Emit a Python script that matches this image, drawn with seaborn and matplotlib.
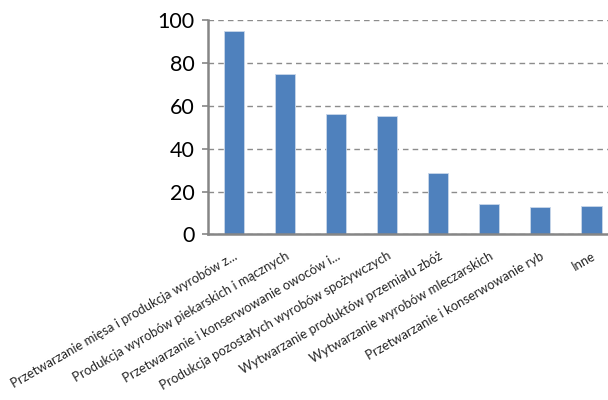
import numpy as np
import pandas as pd
import seaborn as sns
import matplotlib.pyplot as plt

categories = [
  'Przetwarzanie mięsa i produkcja wyrobów z...',
  'Produkcja wyrobów piekarskich i mącznych',
  'Przetwarzanie i konserwowanie owoców i...',
  'Produkcja pozostałych wyrobów spożywczych',
  'Wytwarzanie produktów przemiału zbóż',
  'Wytwarzanie wyrobów mleczarskich',
  'Przetwarzanie i konserwowanie ryb',
  'Inne',
]
values = [95.0, 74.7, 56.4, 55.3, 28.5, 14.0, 13.0, 13.5]
y_ticks = [0, 20, 40, 60, 80, 100]

df = pd.DataFrame({'category': categories, 'value': values})

sns.set_style('white')
plt.rcParams['font.family'] = ['Lato', 'DejaVu Sans']

fig = plt.figure(figsize=(6.08, 4.0), dpi=100)
ax = fig.add_axes([0.3426, 0.4138, 0.672, 0.536])

sns.barplot(
  data=df, x='category', y='value', ax=ax,
  color='#4F81BD', width=0.4, saturation=1,
  edgecolor='#C9D7EA', linewidth=0.6,
)

ax.set_xlim(-0.5, 7.5)
ax.set_ylim(0, 100)
ax.set_yticks(y_ticks)
ax.set_xlabel('')
ax.set_ylabel('')

# dashed horizontal gridlines like the Excel original
ax.yaxis.grid(True, color='#8C8C8C', linestyle=(0, (4, 3)), linewidth=1.0)
ax.set_axisbelow(True)

for side in ['top', 'right']:
  ax.spines[side].set_visible(False)
for side in ['left', 'bottom']:
  ax.spines[side].set_color('#868686')
  ax.spines[side].set_linewidth(1.8)

ax.tick_params(axis='y', labelsize=15.5, length=4, width=1.2, color='#868686',
               left=True, pad=6, labelcolor='black')
ax.tick_params(axis='x', length=0, pad=11)
plt.setp(ax.get_xticklabels(), rotation=30, ha='right', rotation_mode='anchor',
         fontsize=9.4)

fig.savefig('out.png', dpi=100)
